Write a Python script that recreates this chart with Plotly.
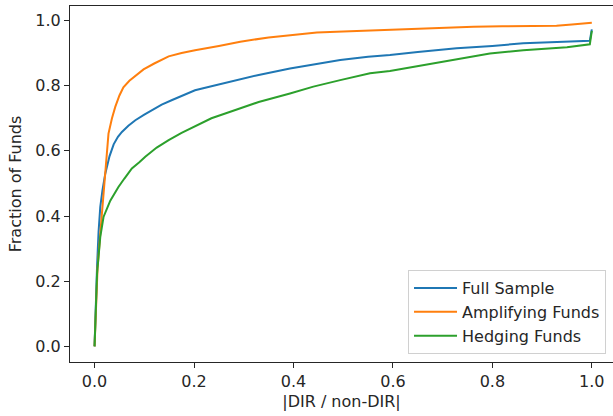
import plotly.graph_objects as go

# Full Sample
full_x = [0, 0.002, 0.005, 0.008, 0.0115, 0.016, 0.0215, 0.03, 0.0384, 0.047, 0.055, 0.068, 0.082, 0.1,
          0.115, 0.135, 0.156, 0.18, 0.202, 0.235, 0.273, 0.33, 0.393, 0.44, 0.494, 0.55, 0.594, 0.65,
          0.728, 0.8, 0.862, 0.93, 0.996, 1.0]
full_y = [0, 0.12, 0.244, 0.35, 0.428, 0.48, 0.53, 0.583, 0.62, 0.643, 0.658, 0.677, 0.694, 0.711,
          0.725, 0.742, 0.756, 0.771, 0.786, 0.798, 0.812, 0.833, 0.853, 0.866, 0.879, 0.889, 0.894, 0.903,
          0.915, 0.922, 0.93, 0.934, 0.938, 0.973]

# Amplifying Funds
amp_x = [0, 0.003, 0.006, 0.0115, 0.016, 0.02, 0.024, 0.028, 0.035, 0.0416, 0.05, 0.058, 0.07, 0.085,
         0.0985, 0.12, 0.149, 0.175, 0.202, 0.25, 0.293, 0.35, 0.4, 0.447, 0.5, 0.55, 0.594, 0.65, 0.7,
         0.762, 0.82, 0.88, 0.929, 0.96, 1.0]
amp_y = [0, 0.15, 0.24, 0.346, 0.43, 0.5, 0.58, 0.653, 0.70, 0.735, 0.77, 0.795, 0.815, 0.833,
         0.85, 0.868, 0.89, 0.90, 0.909, 0.922, 0.935, 0.948, 0.955, 0.963, 0.966, 0.969, 0.971, 0.975, 0.978,
         0.981, 0.982, 0.983, 0.984, 0.988, 0.993]

# Hedging Funds
hed_x = [0, 0.002, 0.005, 0.0115, 0.018, 0.0316, 0.04, 0.048, 0.06, 0.075, 0.09, 0.102, 0.125, 0.149,
         0.175, 0.202, 0.235, 0.273, 0.33, 0.393, 0.44, 0.494, 0.554, 0.594, 0.65, 0.695, 0.75, 0.795,
         0.862, 0.95, 0.996, 1.0]
hed_y = [0, 0.12, 0.223, 0.336, 0.397, 0.447, 0.47, 0.489, 0.515, 0.546, 0.565, 0.582, 0.61, 0.633,
         0.655, 0.676, 0.70, 0.72, 0.75, 0.776, 0.797, 0.817, 0.838, 0.845, 0.86, 0.873, 0.887, 0.899,
         0.909, 0.918, 0.927, 0.968]

series_names = ["Full Sample", "Amplifying Funds", "Hedging Funds"]
colors = ["#1f77b4", "#ff7f0e", "#2ca02c"]
tick_vals = [0.0, 0.2, 0.4, 0.6, 0.8, 1.0]
tick_text = ["0.0", "0.2", "0.4", "0.6", "0.8", "1.0"]

fig = go.Figure()
for xs, ys, name, c in zip([full_x, amp_x, hed_x], [full_y, amp_y, hed_y], series_names, colors):
    fig.add_trace(go.Scatter(x=xs, y=ys, mode="lines", name=name,
                             line=dict(color=c, width=2)))

font = dict(family="DejaVu Sans", size=16, color="#262626")
axis_common = dict(showgrid=False, zeroline=False, showline=True, linecolor="#262626", linewidth=1,
                   ticks="outside", ticklen=5, tickwidth=1, tickcolor="#262626",
                   tickvals=tick_vals, ticktext=tick_text, tickfont=font)

fig.update_layout(
    width=613, height=416,
    margin=dict(l=70, r=0, t=6, b=54),
    paper_bgcolor="white", plot_bgcolor="white",
    font=font,
    xaxis=dict(range=[-0.0494, 1.0426], mirror=True,
               title=dict(text="|DIR / non-DIR|", font=font, standoff=5), **axis_common),
    yaxis=dict(range=[-0.048, 1.0445], mirror=False,
               title=dict(text="Fraction of Funds", font=font, standoff=9), **axis_common),
    legend=dict(x=0.6225, y=0.258, xanchor="left", yanchor="top", itemwidth=43,
                bordercolor="#d0d0d0", borderwidth=1, bgcolor="rgba(255,255,255,0.8)",
                font=font),
)

fig.write_html("out.html")
